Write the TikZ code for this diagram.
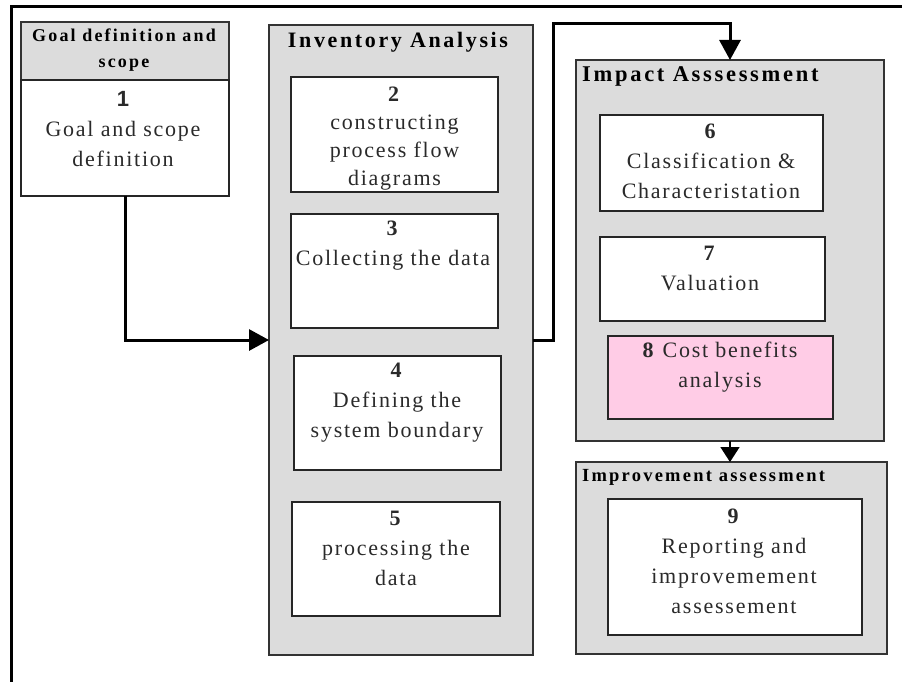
\documentclass[tikz,border=0pt]{standalone}
\usepackage{fontspec}
\setmainfont{Liberation Serif}[LetterSpace=8]
\newfontfamily\numfont{Liberation Sans}
\newfontfamily\headfont{Liberation Serif}[LetterSpace=12]
\usetikzlibrary{arrows.meta}
\definecolor{panelgray}{HTML}{DCDCDC}
\definecolor{costpink}{HTML}{FFCCE6}
\definecolor{inkgray}{HTML}{2A2A2A}

\begin{document}
\begin{tikzpicture}[x=1pt,y=-1pt,
  panel/.style={draw=black!80, line width=1.6pt, fill=panelgray, inner sep=0pt, outer sep=0pt, anchor=north west},
  card/.style={draw=black!85, line width=1.4pt, fill=white, inner sep=0pt, outer sep=0pt, anchor=north west},
  body/.style={font=\fontsize{22}{30}\selectfont, text=inkgray, align=center, inner sep=0pt},
  heading/.style={font=\headfont\fontsize{22}{26}\selectfont\bfseries, text=black, inner sep=0pt},
  smallheading/.style={font=\headfont\fontsize{18.5}{26}\selectfont\bfseries, text=black, inner sep=0pt, align=center},
  flow/.style={line width=3pt, -{Triangle[length=20pt,width=21pt]}},
  thinflow/.style={line width=1.5pt, -{Triangle[length=15pt,width=19pt]}}]

\useasboundingbox (0,0) rectangle (902,682);

% outer frame (top and left edges)
\draw[line width=3pt] (11,682) -- (11,7) -- (902,7);

% stage 1: goal definition and scope
\node[panel, line width=1.4pt, minimum width=208pt, minimum height=58pt] (goalhead) at (21,22) {};
\node[card, minimum width=208pt, minimum height=116pt] (goal) at (21,80) {};
\node[smallheading, font=\headfont\fontsize{18}{26}\selectfont\bfseries] (goalheadt) at (124,50) {Goal definition and\\scope};
\node[body] (goalt) at (123,129) {{\numfont\bfseries 1}\\Goal and scope\\definition};

% stage 2: inventory analysis
\node[panel, minimum width=264pt, minimum height=630pt] (inv) at (269,25) {};
\node[heading] (invt) at (398,42) {Inventory Analysis};
\node[card, minimum width=207pt, minimum height=115pt] (b2) at (291,77) {};
\node[body, font=\fontsize{22}{28}\selectfont] (b2t) at (394.5,138.5) {\textbf{2}\\constructing\\process flow\\diagrams};
\node[card, minimum width=207pt, minimum height=114pt] (b3) at (291,214) {};
\node[body] (b3t) at (393,246) {\textbf{3}\\Collecting the data};
\node[card, minimum width=207pt, minimum height=114pt] (b4) at (294,356) {};
\node[body] (b4t) at (397,402.5) {\textbf{4}\\Defining the\\system boundary};
\node[card, minimum width=208pt, minimum height=114pt] (b5) at (292,502) {};
\node[body] (b5t) at (396,548) {\textbf{5}\\processing the\\data};

% stage 3: impact assessment
\node[panel, minimum width=308pt, minimum height=381pt] (imp) at (576,60) {};
\node[heading, font=\headfont\fontsize{22.5}{26}\selectfont\bfseries, anchor=west] (impt) at (582,76) {Impact Asssessment};
\node[card, minimum width=223pt, minimum height=96pt] (b6) at (600,115) {};
\node[body] (b6t) at (711,161) {\textbf{6}\\Classification \&\\Characteristation};
\node[card, minimum width=225pt, minimum height=84pt] (b7) at (600,237) {};
\node[body] (b7t) at (710,268) {\textbf{7}\\Valuation};
\node[card, fill=costpink, minimum width=225pt, minimum height=83pt] (b8) at (608,336) {};
\node[body] (b8t) at (720,367) {\textbf{8} Cost benefits\\analysis};

% stage 4: improvement assessment
\node[panel, minimum width=311pt, minimum height=192pt] (impr) at (576,462) {};
\node[smallheading, anchor=west] (imprt) at (582,477) {Improvement assessment};
\node[card, minimum width=254pt, minimum height=136pt] (b9) at (608,499) {};
\node[body] (b9t) at (734,561) {\textbf{9}\\Reporting and\\improvemement\\assessement};

% connectors
\coordinate (bend) at (553,24);
\draw[flow] (goal.south) |- (inv.west);
\draw[flow] (inv.east) -| (bend) -| (imp.north);
\draw[thinflow] (imp.south) -- (imp.south |- impr.north);
\end{tikzpicture}
\end{document}
